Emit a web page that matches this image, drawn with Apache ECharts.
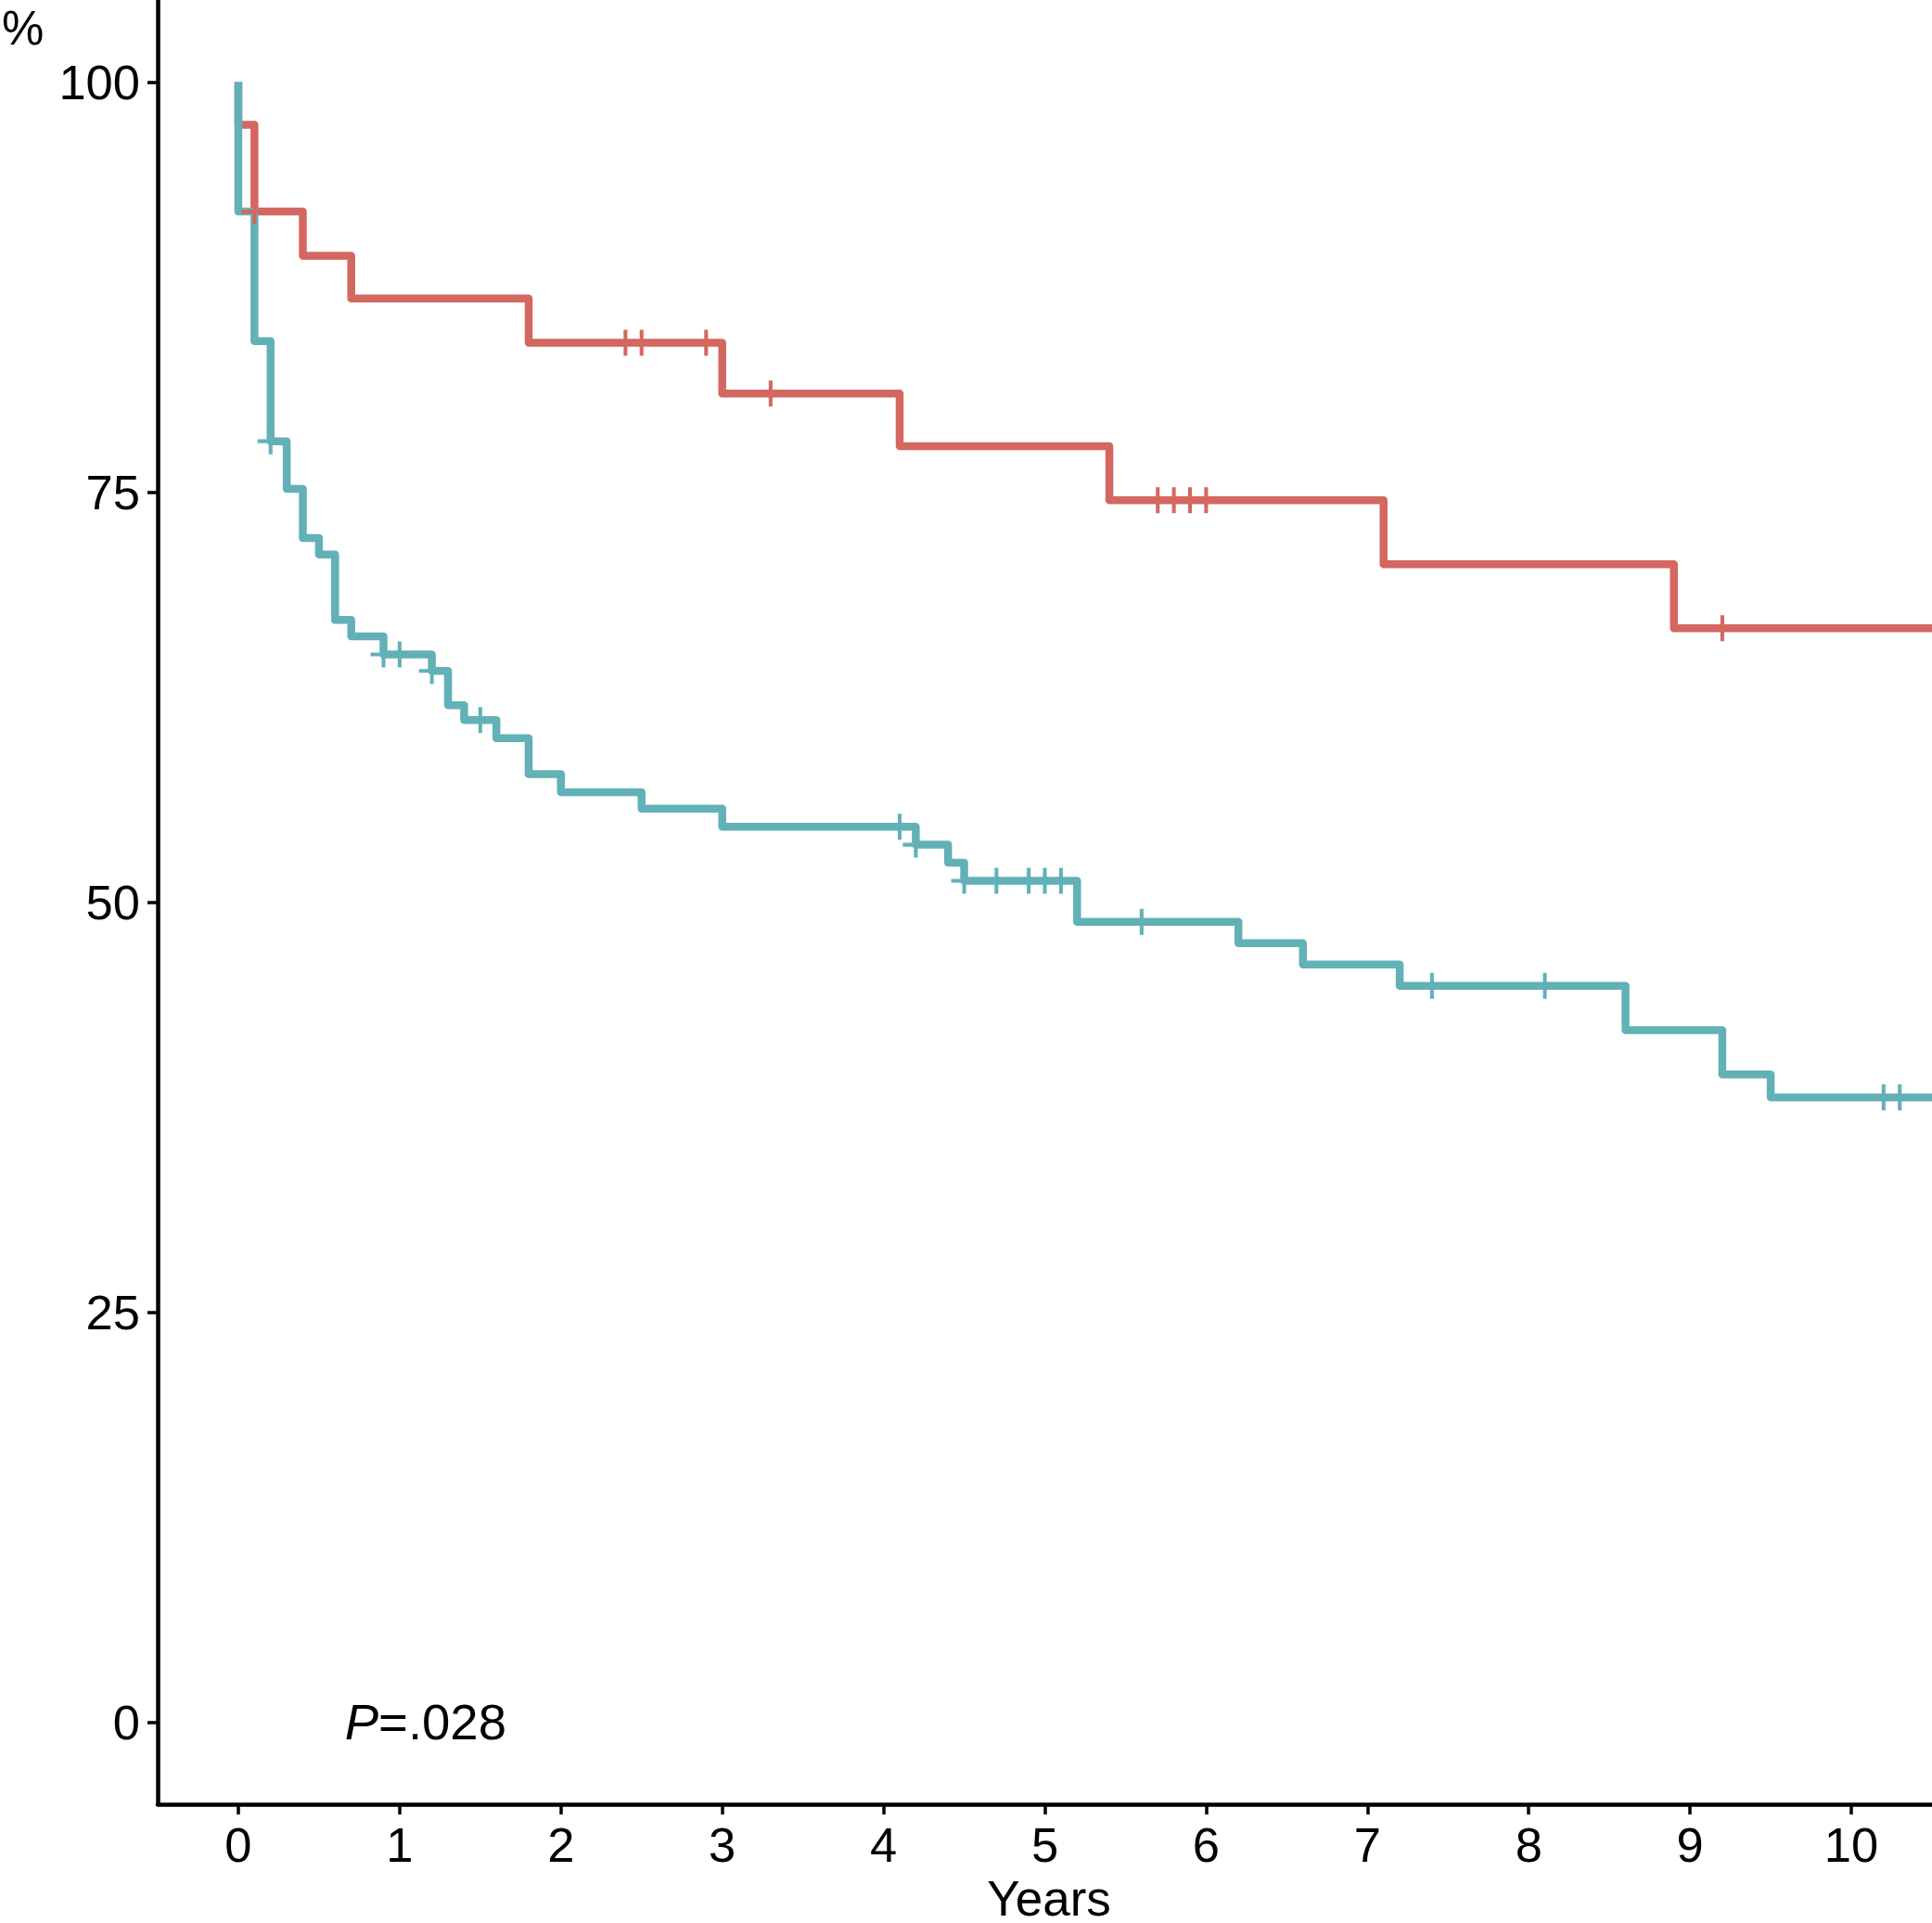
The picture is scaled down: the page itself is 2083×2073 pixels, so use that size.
<!DOCTYPE html>
<html>
<head>
<meta charset="utf-8">
<script src="https://cdn.jsdelivr.net/npm/echarts@6/dist/echarts.min.js"></script>
<style>
html,body{margin:0;padding:0;background:#fff;}
#chart{width:2083px;height:2073px;}
</style>
</head>
<body>
<div id="chart"></div>
<script>
// ---- data ----
const redTimes  = [0, 0, 0.1, 0.4, 0.7, 1.8, 3.0, 4.1, 5.4, 7.1, 8.9];
const redSurv   = [100, 97.4, 92.1, 89.4, 86.8, 84.1, 81.0, 77.8, 74.5, 70.6, 66.7];
const redCensor = [0.1, 2.4, 2.5, 2.9, 3.3, 5.7, 5.8, 5.9, 6.0, 9.2];

const tealTimes = [0, 0, 0.1, 0.2, 0.3, 0.4, 0.5, 0.6, 0.7, 0.9, 1.2, 1.3, 1.4, 1.6, 1.8, 2.0, 2.5, 3.0, 4.2, 4.4, 4.5, 5.2, 6.2, 6.6, 7.2, 8.6, 9.2, 9.5];
const tealSurv  = [100, 92.1, 84.2, 78.1, 75.2, 72.2, 71.2, 67.2, 66.2, 65.1, 64.1, 62.0, 61.1, 60.0, 57.8, 56.7, 55.7, 54.6, 53.5, 52.4, 51.3, 48.8, 47.5, 46.2, 44.9, 42.2, 39.5, 38.1];
const tealCensor = [0.2, 0.9, 1.0, 1.2, 1.5, 4.1, 4.2, 4.5, 4.7, 4.9, 5.0, 5.1, 5.6, 7.4, 8.1, 10.2, 10.3];

const xTicks = [0, 1, 2, 3, 4, 5, 6, 7, 8, 9, 10];
const yTicks = [0, 25, 50, 75, 100];
const xRange = [-0.5, 10.5];
const yRange = [-5, 105];
const pValueText = { x: 0.66, y: 0, label: '=.028' };
const xTitle = 'Years';
const yTitle = '%';

const RED = '#D4675F';
const TEAL = '#62B1B7';
const FONT = 'Liberation Sans, Arial, Helvetica, sans-serif';

function stepLine(times, surv) {
  const pts = times.map((t, i) => [t, surv[i]]);
  pts.push([xRange[1], surv[surv.length - 1]]);
  return pts;
}
function survAt(times, surv, t) {
  let v = surv[0];
  for (let i = 0; i < times.length; i++) { if (times[i] <= t + 1e-9) v = surv[i]; }
  return v;
}
function censorPts(cens, times, surv) {
  return cens.map(t => [t, survAt(times, surv, t)]);
}

const plusPath = 'path://M-1.45,-10L1.45,-10L1.45,10L-1.45,10Z M-10,-1.45L10,-1.45L10,1.45L-10,1.45Z';

const chart = echarts.init(document.getElementById('chart'), null, { renderer: 'svg' });

const option = {
  animation: false,
  backgroundColor: '#fff',
  grid: { left: 170, right: 0, top: 0, bottom: 128, containLabel: false, outerBoundsMode: 'none' },
  xAxis: {
    type: 'value', min: xRange[0], max: xRange[1],
    axisLine: { show: true, onZero: false, lineStyle: { color: '#000', width: 4.5 } },
    axisTick: { show: true, length: 11, lineStyle: { color: '#000', width: 3.5 }, customValues: xTicks },
    axisLabel: { show: true, customValues: xTicks, fontSize: 52.5, lineHeight: 52, color: '#000', margin: 17, fontFamily: FONT },
    splitLine: { show: false }
  },
  yAxis: {
    type: 'value', min: yRange[0], max: yRange[1],
    axisLine: { show: true, onZero: false, lineStyle: { color: '#000', width: 4.5 } },
    axisTick: { show: true, length: 11, lineStyle: { color: '#000', width: 3.5 }, customValues: yTicks },
    axisLabel: { show: true, customValues: yTicks, fontSize: 52.5, color: '#000', margin: 19, fontFamily: FONT },
    splitLine: { show: false }
  },
  graphic: [
    {
      type: 'text', x: 2, y: 30,
      style: { text: yTitle, fontSize: 51, lineHeight: 40, verticalAlign: 'middle', fill: '#000', fontFamily: FONT }
    },
    {
      type: 'text', x: 1131, y: 2046,
      style: { text: xTitle, fontSize: 53, lineHeight: 40, align: 'center', verticalAlign: 'middle', fill: '#000', fontFamily: FONT }
    }
  ],
  series: [
    {
      name: 'red', type: 'line', step: 'end', data: stepLine(redTimes, redSurv),
      showSymbol: false, symbol: 'none', z: 2,
      lineStyle: { color: RED, width: 8.5, join: 'round', cap: 'butt' }
    },
    {
      name: 'teal', type: 'line', step: 'end', data: stepLine(tealTimes, tealSurv),
      showSymbol: false, symbol: 'none', z: 3,
      lineStyle: { color: TEAL, width: 8.5, join: 'round', cap: 'butt' }
    },
    {
      name: 'red censored', type: 'scatter', data: censorPts(redCensor, redTimes, redSurv),
      symbol: plusPath, symbolSize: 28, z: 4, itemStyle: { color: RED, opacity: 1 }
    },
    {
      name: 'teal censored', type: 'scatter', data: censorPts(tealCensor, tealTimes, tealSurv),
      symbol: plusPath, symbolSize: 28, z: 5, itemStyle: { color: TEAL, opacity: 1 }
    },
    {
      name: 'pvalue', type: 'scatter', data: [[pValueText.x, pValueText.y]],
      symbolSize: 0, z: 6, silent: true, itemStyle: { opacity: 1, color: '#000' },
      label: {
        show: true, position: [0, 0], align: 'left', verticalAlign: 'middle',
        color: '#000', textBorderWidth: 0, opacity: 1,
        formatter: '{i|P}{n|' + pValueText.label + '}',
        rich: {
          i: { fontStyle: 'italic', fontSize: 54.5, color: '#000', fontFamily: FONT },
          n: { fontSize: 54.5, color: '#000', fontFamily: FONT }
        }
      }
    }
  ]
};
chart.setOption(option);
</script>
</body>
</html>
